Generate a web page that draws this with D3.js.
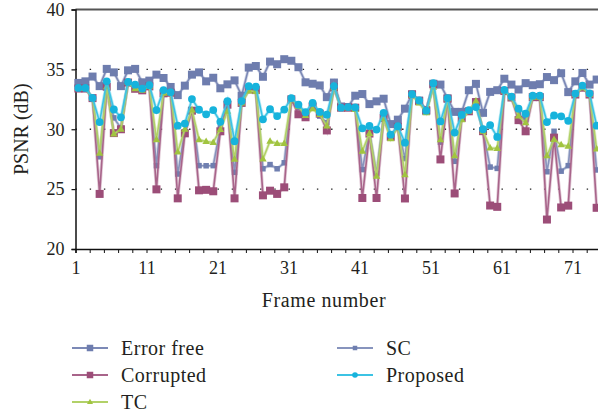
<!DOCTYPE html>
<html>
<head>
<meta charset="utf-8">
<script src="https://cdn.jsdelivr.net/npm/d3@7"></script>
<style>
  html, body { margin: 0; padding: 0; background: #fff; }
  svg { display: block; }
  text { font-family: "Liberation Serif", "Times New Roman", serif; fill: #231f20; }
</style>
</head>
<body>
<svg id="chart" width="598" height="414"></svg>
<script>
// PSNR per frame for each concealment method
const frames = d3.range(1, 75);

const errorFree = [33.87, 34.0, 34.4, 33.6, 35.04, 34.75, 33.6, 34.92, 35.04, 33.92,
  34.06, 34.56, 34.28, 33.53, 32.85, 33.64, 34.56, 34.75, 34.0, 34.3,
  33.42, 33.75, 34.08, 32.8, 35.15, 35.28, 34.38, 35.65, 35.43, 35.85,
  35.72, 35.18, 33.92, 33.8, 33.66, 32.68, 33.9, 31.9, 31.86, 32.8,
  32.94, 32.1, 32.33, 32.55, 30.43, 30.8, 31.72, 32.92, 32.4, 31.52,
  33.8, 33.73, 32.58, 31.45, 31.45, 33.26, 33.79, 31.37, 33.12, 33.26,
  34.22, 33.73, 33.32, 33.85, 33.68, 33.76, 34.36, 34.1, 34.68, 33.1,
  34.0, 34.7, 33.73, 34.15];

const corrupted = [33.4, 33.4, 32.6, 24.6, 33.55, 29.68, 30.0, 33.9, 33.38, 33.25,
  33.58, 24.98, 33.0, 33.05, 24.23, 29.66, 31.55, 24.9, 24.94, 24.82,
  29.83, 32.05, 24.23, 32.2, 33.33, 33.27, 24.48, 24.87, 24.6, 25.15,
  32.5, 31.25, 31.0, 31.9, 31.3, 29.9, 33.5, 31.8, 31.8, 31.8,
  24.26, 29.64, 24.26, 30.95, 29.37, 30.2, 24.22, 32.9, 32.35, 31.6,
  33.74, 27.48, 32.55, 24.64, 30.95, 31.5, 32.27, 29.84, 23.63, 23.52,
  33.19, 32.65, 30.76, 29.83, 32.68, 32.68, 22.46, 29.3, 23.47, 23.62,
  32.9, 33.47, 32.9, 23.44];

const tc = [33.4, 33.4, 32.6, 28.0, 33.55, 29.6, 30.0, 33.9, 33.38, 33.25,
  33.58, 29.13, 33.0, 33.05, 28.1, 30.0, 31.6, 29.12, 28.98, 28.9,
  29.98, 31.5, 27.5, 32.2, 33.2, 33.15, 27.52, 29.0, 28.8, 28.8,
  32.55, 31.9, 31.15, 31.7, 31.23, 30.26, 33.47, 31.8, 31.8, 31.65,
  28.17, 29.64, 26.07, 30.87, 29.2, 30.2, 26.2, 32.82, 32.2, 31.37,
  33.5, 29.12, 32.55, 27.78, 30.8, 31.5, 32.35, 29.84, 28.44, 28.4,
  33.19, 32.63, 31.1, 30.54, 32.68, 32.68, 27.78, 29.14, 28.7, 28.58,
  32.9, 33.47, 32.9, 28.35];

const sc = [33.4, 33.4, 32.6, 27.7, 33.55, 30.95, 30.1, 33.9, 33.38, 33.25,
  33.58, 26.96, 33.0, 33.05, 26.26, 29.8, 31.6, 26.96, 26.95, 26.96,
  30.12, 32.1, 26.4, 32.3, 33.33, 33.27, 26.7, 27.05, 26.7, 27.2,
  32.55, 31.8, 31.04, 32.05, 31.1, 30.54, 33.5, 31.8, 31.8, 31.8,
  26.63, 29.76, 26.3, 31.1, 29.42, 30.2, 27.55, 32.9, 32.35, 31.55,
  33.74, 28.92, 32.55, 27.32, 31.2, 31.43, 32.2, 29.84, 26.84, 26.73,
  33.19, 32.65, 31.23, 30.82, 32.68, 32.68, 26.45, 29.83, 26.5, 26.96,
  32.9, 33.47, 32.9, 26.6];

const proposed = [33.45, 33.45, 32.62, 30.6, 34.0, 31.65, 31.0, 33.95, 33.72, 33.4,
  33.68, 31.6, 33.27, 33.1, 30.3, 30.47, 32.52, 31.63, 31.25, 31.6,
  30.62, 32.34, 29.0, 32.35, 33.6, 33.55, 30.83, 31.67, 31.1, 31.64,
  32.6, 32.05, 31.42, 32.2, 31.45, 31.22, 33.6, 31.8, 31.85, 31.82,
  30.08, 30.28, 29.97, 31.37, 29.55, 30.25, 28.88, 32.93, 32.4, 31.55,
  33.85, 30.65, 32.6, 29.72, 31.2, 31.6, 31.85, 30.0, 30.35, 29.36,
  33.28, 32.72, 31.72, 31.3, 32.8, 32.8, 30.6, 31.15, 31.08, 30.7,
  32.98, 33.65, 33.0, 30.3];

const yTicks = [20, 25, 30, 35, 40];
const xLabelTicks = [1, 11, 21, 31, 41, 51, 61, 71];
const xMinorTicks = d3.range(1, 75, 2);

// series drawn bottom to top
const series = [
  { name: "Error free", values: errorFree, line: "#7c89b6", fill: "#6e7dae", shape: "square", size: 8, legendSize: 6.5, col: 0, row: 0 },
  { name: "SC",         values: sc,        line: "#8794bd", fill: "#6f7fb0", shape: "square", size: 5.5, legendSize: 4.5, col: 1, row: 0 },
  { name: "Corrupted",  values: corrupted, line: "#a8648a", fill: "#9c4d78", shape: "square", size: 8, legendSize: 6.5, col: 0, row: 1 },
  { name: "TC",         values: tc,        line: "#b2d168", fill: "#a1c440", shape: "triangle", size: 7.5, legendSize: 6, col: 0, row: 2 },
  { name: "Proposed",   values: proposed,  line: "#3cc3e4", fill: "#16b3dc", shape: "circle", size: 3.9, legendSize: 2.8, col: 1, row: 1 }
];

const svg = d3.select("#chart");
const plotLeft = 75.5, plotTop = 9.5, plotBottom = 249, step = 7.1;
const x = d3.scaleLinear().domain([1, 75]).range([plotLeft, plotLeft + 74 * step]);
const y = d3.scaleLinear().domain([20, 40]).range([plotBottom, plotTop]);
// markers sit a little to the right of their frame tick
const px = f => x(f + 0.4);

// dotted gridlines
svg.append("g").selectAll("line")
  .data([25, 30, 35]).join("line")
  .attr("x1", plotLeft).attr("x2", 598)
  .attr("y1", d => y(d)).attr("y2", d => y(d))
  .attr("stroke", "#222").attr("stroke-width", 1.4)
  .attr("stroke-dasharray", "1.4," + (2 * step - 1.4));

// top frame line
svg.append("line")
  .attr("x1", plotLeft).attr("x2", 598).attr("y1", y(40)).attr("y2", y(40))
  .attr("stroke", "#555").attr("stroke-width", 2);

// y axis
const yAxis = svg.append("g")
  .attr("transform", `translate(${plotLeft},0)`)
  .call(d3.axisLeft(y).tickValues(yTicks).tickSize(4).tickPadding(7).tickFormat(d3.format("d")));
yAxis.select(".domain").attr("stroke", "#111").attr("stroke-width", 1.5);
yAxis.selectAll(".tick line").attr("stroke", "#111").attr("stroke-width", 1.2);
yAxis.selectAll(".tick text").style("font-size", "18px").attr("fill", "#231f20");

// x axis: minor ticks every two frames, labels every ten
const xAxis = svg.append("g")
  .attr("transform", `translate(0,${plotBottom})`)
  .call(d3.axisBottom(x).tickValues(xMinorTicks).tickSize(4).tickPadding(8)
    .tickFormat(d => xLabelTicks.includes(d) ? d : ""));
xAxis.select(".domain").attr("stroke", "#111").attr("stroke-width", 1.5);
xAxis.selectAll(".tick line").attr("stroke", "#111").attr("stroke-width", 1);
xAxis.selectAll(".tick text").style("font-size", "18px").attr("fill", "#231f20");

// axis titles
svg.append("text")
  .attr("transform", `translate(28,${(plotTop + plotBottom) / 2}) rotate(-90)`)
  .attr("text-anchor", "middle").style("font-size", "20px")
  .text("PSNR (dB)");
svg.append("text")
  .attr("x", 324).attr("y", 307)
  .attr("text-anchor", "middle").style("font-size", "20px").style("letter-spacing", "0.6px")
  .text("Frame number");

const plot = svg.append("g");
const line = d3.line().x((d, i) => px(frames[i])).y(d => y(d));

function drawMarker(sel, s, size) {
  if (s.shape === "circle") {
    sel.append("circle").attr("r", size).attr("fill", s.fill);
  } else if (s.shape === "triangle") {
    const h = size * 0.87;
    sel.append("path")
      .attr("d", `M0,${-h * 0.62} L${size / 2},${h * 0.38} L${-size / 2},${h * 0.38} Z`)
      .attr("fill", s.fill);
  } else {
    sel.append("rect").attr("x", -size / 2).attr("y", -size / 2)
      .attr("width", size).attr("height", size).attr("fill", s.fill);
  }
}

series.forEach(s => {
  const g = plot.append("g");
  g.append("path").datum(s.values)
    .attr("d", line).attr("fill", "none")
    .attr("stroke", s.line).attr("stroke-width", 3.2).attr("stroke-opacity", 0.35);
  g.append("path").datum(s.values)
    .attr("d", line).attr("fill", "none")
    .attr("stroke", s.line).attr("stroke-width", 1.6);
  g.selectAll("g.pt").data(s.values).join("g")
    .attr("class", "pt")
    .attr("transform", (d, i) => `translate(${px(frames[i])},${y(d)})`)
    .each(function () { drawMarker(d3.select(this), s, s.size); });
});

// legend
const legendCols = [72, 337], legendRows = [348, 375, 402];
const legend = svg.append("g");
series.forEach(s => {
  const lx = legendCols[s.col], ly = legendRows[s.row];
  const g = legend.append("g");
  g.append("line").attr("x1", lx).attr("x2", lx + 36).attr("y1", ly).attr("y2", ly)
    .attr("stroke", s.line).attr("stroke-width", 2);
  const m = g.append("g").attr("transform", `translate(${lx + 18},${ly})`);
  drawMarker(m, s, s.legendSize);
  g.append("text").attr("x", lx + 49).attr("y", ly + 6.5)
    .style("font-size", "20px").style("letter-spacing", "0.5px")
    .text(s.name);
});
</script>
</body>
</html>
